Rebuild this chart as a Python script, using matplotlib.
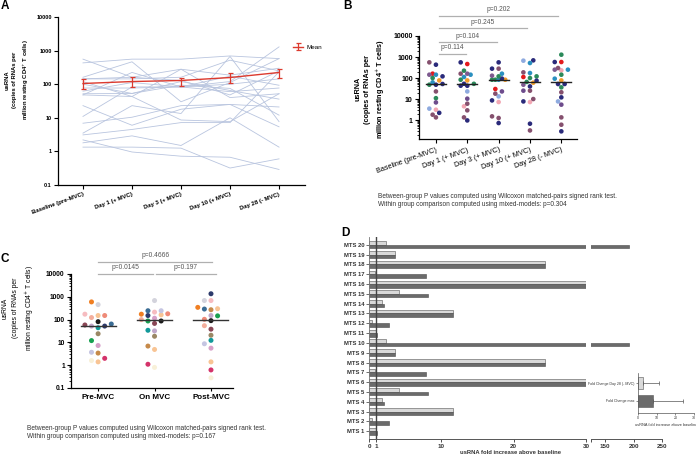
import numpy as np
import matplotlib.pyplot as plt
from matplotlib.ticker import NullLocator, LogLocator, NullFormatter
from matplotlib.transforms import blended_transform_factory

plt.rcParams['font.family'] = ['Liberation Sans', 'DejaVu Sans']
plt.rcParams['axes.linewidth'] = 0.9

W, H = 696, 457

# ---- A / B : usRNA per subject (copies per million resting CD4+ T cells)
timepoints = ['Baseline (pre-MVC)', 'Day 1 (+ MVC)', 'Day 3 (+ MVC)',
              'Day 10 (+ MVC)', 'Day 28 (- MVC)']
baseline = [161, 77, 3.5, 3.1, 431, 557, 48, 144, 120, 62, 52, 11, 23, 6.9, 2.2, 1.8, 1.34, 48, 144, 100]
day1 = [464, 77, 23, 4.5, 557, 161, 224, 144, 43, 112, 53, 83, 6, 10.4, 0.96, 2.9, 1.34, 43, 161, 53]
day3 = [30, 83, 13.4, 7.2, 557, 279, 83, 161, 279, 83, 94, 83, 18, 23, 0.72, 1.5, 1.25, 8.6, 129, 120]
day10 = [112, 60, 670, 7.2, 693, 186, 120, 518, 40, 173, 75, 100, 25, 25, 0.67, 10, 0.32, 7.7, 48, 65]
day28 = [578, 77, 7.7, 232, 578, 299, 1290, 250, 52, 93, 12, 144, 21, 5.4, 0.29, 1.34, 0.6, 52, 250, 36]
subj_colors = ['#e31a1c', '#f39c2b', '#8eaadf', '#f2a7b3', '#2a2a7a', '#85506e', '#2b8a5a',
               '#2a90c0', '#2a2a7a', '#2a90c0', '#2a2a7a', '#2b8a5a', '#85506e', '#6d4c8c',
               '#2a2a7a', '#85506e', '#85506e', '#2a2a7a', '#7d5a8f', '#2b8a5a']

mean_vals = [105, 120, 129, 158, 223]
mean_lo = [71, 83, 89, 112, 148]
mean_hi = [141, 166, 155, 213, 293]

p_B = ['p=0.114', 'p=0.104', 'p=0.245', 'p=0.202']
foot_B = ['Between-group P values computed using Wilcoxon matched-pairs signed rank test.',
          'Within group comparison computed using mixed-models: p=0.304']

# ---- C : pooled periods
groups = ['Pre-MVC', 'On MVC', 'Post-MVC']
pre_mvc = [454, 597, 173, 151, 151, 123, 81, 58, 52, 52, 64, 44, 24, 12, 7.3, 3.7, 3.4, 2, 1.4, 1.6]
on_mvc = [685, 173, 213, 162, 180, 100, 87, 68, 32, 151, 245, 34, 18.6, 87, 115, 245, 6.9, 1.1, 4.9, 0.8]
post_mvc = [685, 344, 685, 300, 103, 54, 90, 38, 151, 1360, 290, 12.3, 20.6, 146, 5.6, 8.7, 271, 0.62, 1.4, 0.28]
c_colors = ['#d3d3dc', '#f07f22', '#f6bcc0', '#f8c494', '#ee8a78', '#f4ae9c', '#1a1a1a',
            '#8a4655', '#bfa6c9', '#2d3a6b', '#3a6c94', '#12999a', '#9a8764', '#18a050',
            '#d7a0c8', '#c5c5e2', '#c68a4a', '#d4336a', '#f8c494', '#f8f0d8']
p_C = [('p=0.0145', 0.0, 0.98, 1.0), ('p=0.197', 1.03, 2.08, 1.0), ('p=0.4666', 0.0, 2.02, 1.105)]
foot_C = ['Between-group P values computed using Wilcoxon matched-pairs signed rank test.',
          'Within group comparison computed using mixed-models: p=0.167']

# ---- D : fold change above baseline
mts = ['MTS %d' % i for i in range(1, 21)]
fc_day28 = [0.9, 0.46, 11.6, 1.8, 4.2, 30, 0.8, 24.4, 3.6, 2.4,
            0.9, 0.46, 11.6, 1.8, 4.2, 30, 0.8, 24.4, 3.6, 2.4]
fc_max = [1.15, 2.7, 11.6, 2.1, 8.2, 30, 7.9, 24.4, 3.6, 192,
          1.15, 2.7, 11.6, 2.1, 8.2, 30, 7.9, 24.4, 3.6, 192]
inset_cats = ['Fold Change max', 'Fold Change Day 28 (- MVC)']
inset_vals = [8.0, 2.7]
inset_err = [16.2, 8.7]

ylab = 'usRNA\n(copies of RNAs per\nmillion resting CD4$^{+}$ T cells)'

fig = plt.figure(figsize=(W / 100, H / 100), dpi=100)


def rect(x0, y0, x1, y1):
    return [x0 / W, 1 - y1 / H, (x1 - x0) / W, (y1 - y0) / H]


def ftext(x, y, s, **kw):
    fig.text(x / W, 1 - y / H, s, **kw)


def clean(ax):
    ax.spines['top'].set_visible(False)
    ax.spines['right'].set_visible(False)


def swarm(ax, pos, vals, step, dia, maxk):
    # simple beeswarm in pixel space, at most maxk slots either side
    pts = ax.transData.transform(np.column_stack([np.full(len(vals), pos), vals]))
    y = pts[:, 1]
    ppu = ax.transData.transform((pos + 1, 1))[0] - ax.transData.transform((pos, 1))[0]
    cands = [0.0]
    for j in range(1, maxk + 1):
        cands += [-j * step, j * step]
    placed = []
    off = np.zeros(len(vals))
    for i in np.argsort(y):
        best, bestd = 0.0, -1
        for c in cands:
            d = min([np.hypot(c - px, y[i] - py) for px, py in placed] + [99])
            if d >= dia:
                best = c
                break
            if d > bestd + 0.3:
                best, bestd = c, d
        off[i] = best
        placed.append((best, y[i]))
    return pos + off / ppu


# ================= A
axA = fig.add_axes(rect(58, 17, 305, 185))
clean(axA)
xa = np.arange(len(timepoints))
subjects = np.array([baseline, day1, day3, day10, day28]).T
for row in subjects:
    axA.plot(xa, row, color='#b9c5df', lw=0.6)
eb = axA.errorbar(xa, mean_vals,
                  yerr=[np.subtract(mean_vals, mean_lo), np.subtract(mean_hi, mean_vals)],
                  color='#dc3a2e', lw=1.0, elinewidth=0.9, capsize=1.8, capthick=0.9, zorder=5)
axA.set_yscale('log')
axA.set_ylim(0.1, 10000)
axA.set_xlim(-0.51, 4.53)
axA.set_yticks([0.1, 1, 10, 100, 1000, 10000])
axA.set_yticklabels(['0.1', '1', '10', '100', '1000', '10000'], fontweight='bold')
axA.yaxis.set_minor_locator(NullLocator())
axA.set_xticks(xa)
axA.set_xticklabels(timepoints, rotation=20, ha='right', rotation_mode='anchor',
                    fontsize=4.3, fontweight='bold')
axA.tick_params(axis='y', labelsize=4, length=3, pad=1.5)
axA.tick_params(axis='x', length=3, pad=2)
axA.legend([eb], ['Mean'], loc='center left', bbox_to_anchor=(293 / W, 1 - 47 / H),
           bbox_transform=fig.transFigure, frameon=False, fontsize=4.5,
           handlelength=1.6, handletextpad=0.5, borderaxespad=0, borderpad=0)
ftext(18, 80, ylab, rotation=90, ha='center', va='center', fontsize=4.2,
      fontweight='bold', linespacing=1.6, multialignment='center')

# ================= B
axB = fig.add_axes(rect(419, 36, 577, 139.4))
clean(axB)
axB.set_yscale('log')
axB.set_ylim(0.12, 10000)
axB.set_xlim(-0.54, 4.5)
axB.set_yticks([1, 10, 100, 1000, 10000])
axB.set_yticklabels(['1', '10', '100', '1000', '10000'], fontweight='bold')
axB.yaxis.set_minor_locator(LogLocator(subs=np.arange(2, 10)))
axB.yaxis.set_minor_formatter(NullFormatter())
axB.set_xticks(xa)
axB.set_xticklabels(timepoints, rotation=20, ha='right', rotation_mode='anchor', fontsize=5.2)
axB.tick_params(axis='y', labelsize=5, length=3, pad=1.5)
axB.tick_params(axis='y', which='minor', length=1.5)
axB.tick_params(axis='x', length=3, pad=2)
for j, col in enumerate(subjects.T):
    xs = swarm(axB, j, col, 3.3, 4.2, 2)
    axB.scatter(xs, col, s=11, c=subj_colors, linewidths=0, zorder=3)
    med = np.median(col)
    axB.plot([j - 0.32, j + 0.32], [med, med], color='#222222', lw=1, zorder=4)
trB = blended_transform_factory(axB.transData, axB.transAxes)
for k, (lab, lev) in enumerate(zip(p_B, [0.83, 0.943, 1.075, 1.198])):
    x1 = (k + 1) * 0.97
    axB.plot([0.1, x1], [lev, lev], transform=trB, color='#b0b0b0', lw=0.9, clip_on=False)
    axB.text((0.1 + x1) / 2, lev + 0.055, lab, transform=trB, ha='center', va='center',
             fontsize=4.8, color='#555555')
ftext(371, 89, ylab, rotation=90, ha='center', va='center', fontsize=5.2,
      fontweight='bold', linespacing=1.5, multialignment='center')
ftext(378, 197, foot_B[0], fontsize=4.7, va='center', color='#333333')
ftext(378, 204.5, foot_B[1], fontsize=4.7, va='center', color='#333333')

# ================= C
axC = fig.add_axes(rect(71, 274, 233, 388))
clean(axC)
axC.set_yscale('log')
axC.set_ylim(0.1, 10000)
axC.set_xlim(-0.48, 2.39)
axC.set_yticks([0.1, 1, 10, 100, 1000, 10000])
axC.set_yticklabels(['0.1', '1', '10', '100', '1000', '10000'], fontweight='bold')
axC.yaxis.set_minor_locator(LogLocator(subs=np.arange(2, 10)))
axC.yaxis.set_minor_formatter(NullFormatter())
xc = np.arange(len(groups))
axC.set_xticks(xc)
axC.set_xticklabels(groups, fontsize=5.8, fontweight='bold')
axC.tick_params(axis='y', labelsize=4.8, length=3, pad=1.5)
axC.tick_params(axis='y', which='minor', length=1.5)
axC.tick_params(axis='x', length=2, pad=2)
for j, col in enumerate([pre_mvc, on_mvc, post_mvc]):
    xs = swarm(axC, j, col, 6.6, 5.0, 2)
    axC.scatter(xs, col, s=13, c=c_colors, linewidths=0, zorder=3)
    med = np.median(col)
    axC.plot([j - 0.31, j + 0.31], [med, med], color='#333333', lw=1, zorder=4)
trC = blended_transform_factory(axC.transData, axC.transAxes)
for lab, x0, x1, lev in p_C:
    axC.plot([x0, x1], [lev, lev], transform=trC, color='#b0b0b0', lw=0.9, clip_on=False)
    axC.text((x0 + x1) / 2, lev + 0.058, lab, transform=trC, ha='center', va='center',
             fontsize=4.8, color='#555555')
ftext(19, 308, ylab, rotation=90, ha='center', va='center', fontsize=4.9,
      linespacing=1.6, multialignment='center')
ftext(27, 428, foot_C[0], fontsize=4.7, va='center', color='#333333')
ftext(27, 436, foot_C[1], fontsize=4.7, va='center', color='#333333')

# ================= D
yd = np.arange(1, len(mts) + 1)
axD1 = fig.add_axes(rect(369, 237, 586, 439))
axD2 = fig.add_axes(rect(591, 237, 662, 439))
for ax in (axD1, axD2):
    clean(ax)
    ax.barh(yd + 0.18, fc_day28, height=0.36, color='#d9d9d9', edgecolor='#555555', lw=0.4)
    ax.barh(yd - 0.18, fc_max, height=0.36, color='#6b6b6b', edgecolor='#4a4a4a', lw=0.4)
    ax.set_ylim(0.2, 20.8)
    ax.spines['bottom'].set_color('#555555')
    ax.spines['bottom'].set_linewidth(0.7)
    ax.tick_params(axis='x', length=2, pad=1.5, labelsize=4.5, colors='#333333', width=0.6)
axD1.set_xlim(0, 30)
axD1.axvline(1, color='#444444', lw=1.0)
axD1.spines['left'].set_color('#777777')
axD1.spines['left'].set_linewidth(0.6)
axD1.set_yticks(yd)
axD1.set_yticklabels(mts, fontsize=4.2, fontweight='bold', color='#333333')
axD1.tick_params(axis='y', length=2, pad=1.5, width=0.6, color='#555555')
axD1.set_xticks([0, 1, 10, 20, 30])
axD1.set_xticklabels(['0', '1', '10', '20', '30'], fontweight='bold')
axD2.set_xlim(125, 250)
axD2.spines['left'].set_visible(False)
axD2.set_yticks([])
axD2.set_xticks([125, 150, 200, 250])
axD2.set_xticklabels(['', '150', '200', '250'], fontweight='bold')
ftext(510, 453, 'usRNA fold increase above baseline', fontsize=4.2, fontweight='bold',
      ha='center', va='center', color='#333333')

axI = fig.add_axes(rect(638, 373, 694, 413))
clean(axI)
yi = np.arange(len(inset_cats))
axI.barh(yi, inset_vals, height=0.7, color=['#6b6b6b', '#d9d9d9'], edgecolor='#555555', lw=0.4,
         xerr=[[0] * len(inset_err), inset_err],
         error_kw=dict(ecolor='#555555', elinewidth=0.5, capsize=1.5, capthick=0.5))
axI.set_ylim(-0.667, 1.556)
axI.set_xlim(0, 30)
axI.set_xticks([0, 10, 20, 30])
axI.set_yticks(yi)
axI.set_yticklabels(inset_cats)
axI.tick_params(labelsize=2.6, length=1.5, pad=1, width=0.4, colors='#333333')
for s in ('left', 'bottom'):
    axI.spines[s].set_linewidth(0.5)
    axI.spines[s].set_color('#555555')
axI.set_xlabel('usRNA fold increase above baseline', fontsize=2.8, labelpad=2, color='#333333')

# panel letters
for lab, x, y in [('A', 0.5, 6), ('B', 343, 6), ('C', 0.5, 259), ('D', 341, 233)]:
    ftext(x, y, lab, fontsize=8.5, fontweight='bold', ha='left', va='center')

fig.savefig('out.png', dpi=100)
